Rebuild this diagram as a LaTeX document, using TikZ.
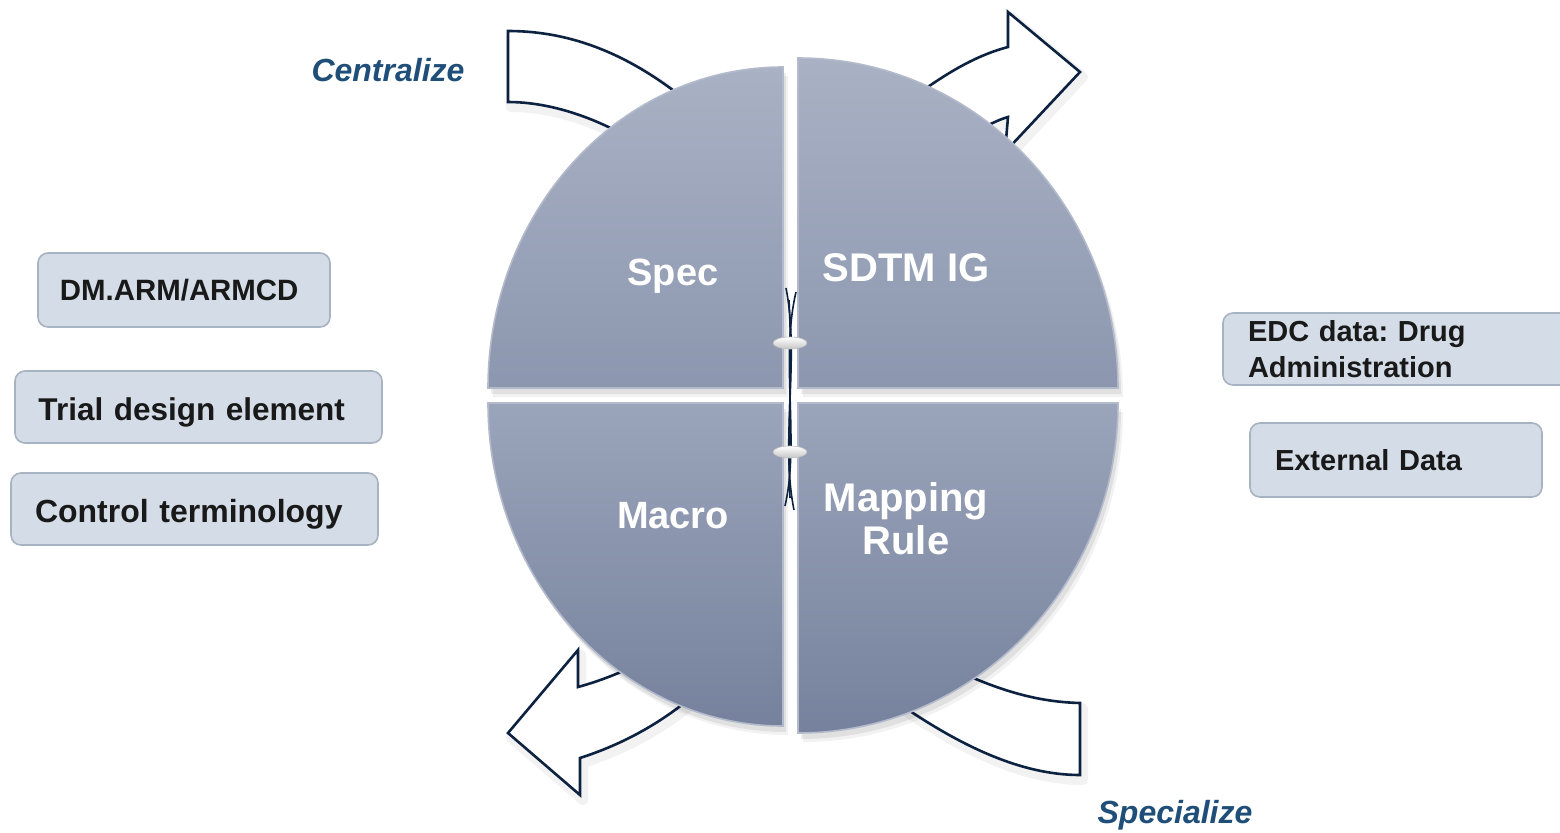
\documentclass[tikz,border=0pt]{standalone}
\usepackage{fontspec}
\setmainfont{Liberation Sans}
\usetikzlibrary{shapes.geometric}
\definecolor{navy}{HTML}{0D2240}
\definecolor{ttl}{HTML}{1F4E79}
\definecolor{boxfill}{HTML}{D4DDE7}
\definecolor{boxline}{HTML}{A8B3C2}
\definecolor{qtop}{HTML}{A9B1C4}
\definecolor{qmid}{HTML}{8C97AF}
\definecolor{qmid2}{HTML}{9AA4BA}
\definecolor{qbot}{HTML}{76829D}
\definecolor{qedge}{HTML}{B3BACB}
\frenchspacing
\tikzset{
  arrowshape/.style={fill=white, draw=navy, line width=1.3pt, line join=miter},
  arrowglow/.style={draw=black, opacity=0.05, line width=5pt, line join=round},
  infobox/.style={draw=boxline, line width=0.8pt, fill=boxfill, rounded corners=5pt,
     align=left, font=\bfseries, text=black!90, anchor=center},
  qlabel/.style={text=white, font=\bfseries, align=center},
  ttllabel/.style={text=ttl, font=\bfseries\itshape\fontsize{16pt}{19pt}\selectfont},
  clipknob/.style={ellipse, minimum width=17pt, minimum height=6pt, inner sep=0pt,
     draw=gray!50, line width=0.3pt, top color=white, bottom color=gray!45},
  stringline/.style={draw=navy, line width=0.8pt}
}
\def\arrTL{(508,31) .. controls (590,31) and (660,70) .. (730,140) -- (670,165) .. controls (625,130) and (565,102) .. (508,102) -- cycle}
\def\arrTR{(890,115) .. controls (935,80) and (970,57) .. (1008,47) -- (1008,12) -- (1080,72) -- (1005,152) -- (1008,117) .. controls (990,122) and (960,140) .. (930,165) -- cycle}
\def\arrBL{(665,650) .. controls (630,670) and (600,681) .. (578,687) -- (578,650) -- (508,733) -- (580,795) -- (580,758) .. controls (620,745) and (660,725) .. (700,690) -- cycle}
\def\arrBR{(945,665) .. controls (1000,692) and (1040,702) .. (1080,703) -- (1080,775) .. controls (1020,775) and (955,745) .. (880,690) -- cycle}
\def\qTL{(783,388) -- (488,388) .. controls (488,210.7) and (620.1,67) .. (783,67) -- cycle}
\def\qTR{(798,388) -- (798,58) .. controls (974.7,58) and (1118,205.7) .. (1118,388) -- cycle}
\def\qBL{(783,403) -- (488,403) .. controls (488,580.3) and (620.1,726) .. (783,726) -- cycle}
\def\qBR{(798,403) -- (1118,403) .. controls (1118,585.3) and (974.7,733) .. (798,733) -- cycle}
\begin{document}
\begin{tikzpicture}[x=0.5pt, y=-0.5pt]
\useasboundingbox (0,0) rectangle (1560,832);
\fill[white] (0,0) rectangle (1560,832);

% curved arrows (behind the circle)
\foreach \p in {\arrTL,\arrTR,\arrBL,\arrBR}{
  \path[arrowglow, shift={(3,5)}] \p;
  \path[arrowshape] \p;
}

% soft shadow of the circle
\foreach \q in {\qTL,\qTR,\qBL,\qBR}{
  \fill[black, opacity=0.07, shift={(3,6)}] \q;
  \fill[black, opacity=0.05, shift={(5,9)}] \q;
}

% quadrants
\shade[top color=qtop, bottom color=qmid, draw=qedge, line width=0.8pt] \qTL;
\shade[top color=qtop, bottom color=qmid, draw=qedge, line width=0.8pt] \qTR;
\shade[top color=qmid2, bottom color=qbot, draw=qedge, line width=0.8pt] \qBL;
\shade[top color=qmid2, bottom color=qbot, draw=qedge, line width=0.8pt] \qBR;

% strings in the centre gap
\coordinate (s1a) at (786,288); \coordinate (s1b) at (794,510);
\coordinate (s2a) at (796,292); \coordinate (s2b) at (785,506);
\coordinate (s3a) at (789,300); \coordinate (s3b) at (790,498);
\draw[stringline] (s1a) .. controls (800,360) and (780,440) .. (s1b);
\draw[stringline] (s2a) .. controls (780,360) and (800,440) .. (s2b);
\draw[stringline] (s3a) .. controls (793,380) and (787,420) .. (s3b);
\node[clipknob] (k1) at (790,343) {};
\node[clipknob] (k2) at (790,452) {};

% quadrant labels
\node[qlabel, font=\bfseries\fontsize{19pt}{22pt}\selectfont] (spec) at (673,276) {Spec};
\node[qlabel, font=\bfseries\fontsize{20pt}{22pt}\selectfont] (sdtm) at (906,268) {SDTM IG};
\node[qlabel, font=\bfseries\fontsize{19pt}{22pt}\selectfont] (macro) at (673,516) {Macro};
\node[qlabel, font=\bfseries\fontsize{20pt}{21.5pt}\selectfont] (map) at (906,519) {Mapping\\Rule};

% titles
\node[ttllabel] (centralize) at (388,70) {Centralize};
\node[ttllabel] (specialize) at (1175,815) {Specialize};

% left boxes
\node[infobox, minimum width=146pt, minimum height=37pt, text width=124pt, inner xsep=11pt,
  font=\bfseries\fontsize{14.7pt}{17pt}\selectfont] (dm) at (184,290) {DM.ARM/ARMCD};
\node[infobox, minimum width=183.5pt, minimum height=36pt, text width=160pt, inner xsep=11.5pt,
  font=\bfseries\fontsize{15.75pt}{19pt}\selectfont] (trial) at (198.5,407) {\rule{0pt}{1.05em}Trial design element};
\node[infobox, minimum width=183.5pt, minimum height=36pt, text width=159.5pt, inner xsep=12pt,
  font=\bfseries\fontsize{16pt}{19pt}\selectfont] (ctrl) at (194.5,509) {\rule{0pt}{1.05em}Control terminology};

% right boxes
\node[infobox, minimum width=178.5pt, minimum height=36pt, text width=153.5pt, inner xsep=12.5pt,
  inner ysep=0pt, font=\bfseries\fontsize{14.5pt}{18pt}\selectfont] (edc) at (1401.5,349) {EDC data: Drug\\Administration};
\node[infobox, minimum width=146pt, minimum height=37pt, text width=121pt, inner xsep=12.5pt,
  font=\bfseries\fontsize{14.5pt}{17pt}\selectfont] (ext) at (1396,460) {External Data};
\end{tikzpicture}
\end{document}
